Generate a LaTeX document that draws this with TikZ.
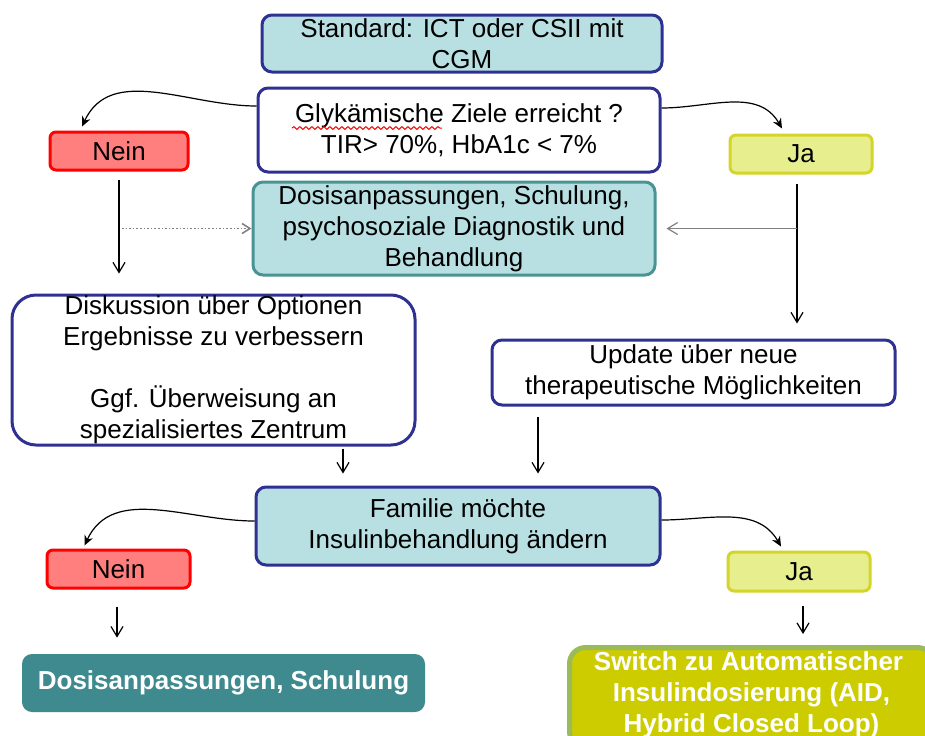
\documentclass[tikz,border=0pt]{standalone}
\usepackage{fontspec}
\setmainfont{Liberation Sans}
\usetikzlibrary{arrows.meta,calc,decorations.pathmorphing}
\definecolor{navy}{HTML}{2F3192}
\definecolor{lblue}{HTML}{B8DFE2}
\definecolor{tealb}{HTML}{4A9393}
\definecolor{tealf}{HTML}{3E8A8E}
\definecolor{neinf}{HTML}{FF7F7F}
\definecolor{neinb}{HTML}{FF0000}
\definecolor{jaf}{HTML}{E6EE8E}
\definecolor{jab}{HTML}{D4D42A}
\definecolor{swf}{HTML}{CCCC00}
\definecolor{swb}{HTML}{9BBB59}
\definecolor{grayline}{HTML}{808080}
\begin{document}
\begin{tikzpicture}[x=0.5pt,y=-0.5pt,
  base/.style={align=center,inner sep=0pt,font=\fontsize{13}{15.5}\selectfont},
  box/.style={base,draw=navy,line width=1.5pt,rounded corners=5pt},
  nein/.style={base,draw=neinb,fill=neinf,line width=1.5pt,rounded corners=3pt,minimum width=69pt,minimum height=19pt},
  ja/.style={base,draw=jab,fill=jaf,line width=1.5pt,rounded corners=3pt,minimum width=71pt,minimum height=19pt},
  varr/.style={-{Straight Barb[length=5pt,width=6pt]},line width=0.6pt},
  carr/.style={-{Stealth[length=5pt,width=4.5pt]},line width=0.6pt},
  garr/.style={-{Straight Barb[length=5pt,width=6pt]},line width=0.6pt,draw=grayline},
  darr/.style={-{Straight Barb[length=4pt,width=5pt]},line width=0.8pt,draw=grayline,densely dotted}]
\useasboundingbox (0,0) rectangle (925,735);

\node[box,fill=lblue,minimum width=200pt,minimum height=28.5pt] (std) at (462,43.5)
  {Standard: ICT oder CSII mit\\CGM};
\node[box,fill=white,minimum width=201pt,minimum height=42pt] (glyk) at (459,130)
  {Glykämische Ziele erreicht ?\\TIR> 70\%, HbA1c < 7\%};
\node[nein] (nein1) at (119,151) {Nein};
\node[ja] (ja1) at (801,154) {Ja};
\node[box,draw=tealb,fill=lblue,minimum width=201pt,minimum height=46.5pt] (dos) at (454,228.5)
  {Dosisanpassungen, Schulung,\\psychosoziale Diagnostik und\\Behandlung};
\node[box,fill=white,rounded corners=12pt,minimum width=201.5pt,minimum height=75pt] (disk) at (213.5,370)
  {Diskussion über Optionen\\Ergebnisse zu verbessern\\[15.5pt]Ggf. Überweisung an\\spezialisiertes Zentrum};
\node[box,fill=white,minimum width=201.5pt,minimum height=32.5pt] (upd) at (693.5,372.5)
  {Update über neue\\therapeutische Möglichkeiten};
\node[box,fill=lblue,minimum width=202pt,minimum height=39pt] (fam) at (458,526)
  {Familie möchte\\Insulinbehandlung ändern};
\node[nein,minimum width=71.5pt] (nein2) at (118.5,569) {Nein};
\node[ja,minimum height=19.5pt] (ja2) at (799,571.5) {Ja};
\node[base,fill=tealf,text=white,font=\fontsize{13}{15.5}\selectfont\bfseries,rounded corners=5pt,minimum width=201.5pt,minimum height=29pt] (dos2) at (223.5,683)
  {Dosisanpassungen, Schulung};
\node[base,draw=swb,fill=swf,line width=2.5pt,text=white,font=\fontsize{13}{15.5}\selectfont\bfseries,rounded corners=8pt,minimum width=182pt,minimum height=50pt,anchor=north west] (sw) at (567,645)
  {\hspace*{-3pt}Switch zu Automatischer\\Insulindosierung (AID,\\Hybrid Closed Loop)\\[-10pt]\mbox{}};

% spell-check squiggle
\draw[red,line width=0.5pt,decorate,decoration={snake,amplitude=0.7pt,segment length=3pt}] (292,128) -- (442,128);

% curved arrows
\draw[carr] ($(glyk.west)+(0,-24)$) to[out=180,in=65] ($(nein1.north)+(-37,-4)$);
\draw[carr] ($(glyk.east)+(0,-22)$) to[out=0,in=120] ($(ja1.north)+(-19,-5)$);
\draw[carr] ($(fam.west)+(0,-5)$) to[out=180,in=65] ($(nein2.north)+(-34,-3)$);
\draw[carr] ($(fam.east)+(0,-6)$) to[out=0,in=120] ($(ja2.north)+(-18,-4)$);

% helper coordinates for vertical connectors
\coordinate (ja1s) at ($(ja1.south)+(-4,0)$);
\coordinate (disks) at ($(disk.south)+(129.5,0)$);
\coordinate (upds) at ($(upd.south)+(-155.5,0)$);
\coordinate (nein2s) at ($(nein2.south)+(-1.5,0)$);
\coordinate (ja2s) at ($(ja2.south)+(4,0)$);

% vertical arrows
\draw[varr,shorten <=4pt,shorten >=10pt] (nein1.south) -- (nein1.south |- disk.north);
\draw[darr,shorten <=1.5pt] (nein1.south |- dos.west) -- (dos.west);
\draw[varr,shorten <=4.5pt,shorten >=7.5pt] (ja1s) -- (ja1s |- upd.north);
\draw[garr,shorten >=5pt] (ja1s |- dos.east) -- (dos.east);
\draw[varr,shorten <=1pt,shorten >=6pt] (disks) -- (disks |- fam.north);
\draw[varr,shorten <=5pt,shorten >=6pt] (upds) -- (upds |- fam.north);
\draw[varr,shorten <=8.5pt,shorten >=8pt] (nein2s) -- (nein2s |- dos2.north);
\draw[varr,shorten <=6.5pt,shorten >=5.5pt] (ja2s) -- (ja2s |- sw.north);
\end{tikzpicture}
\end{document}
